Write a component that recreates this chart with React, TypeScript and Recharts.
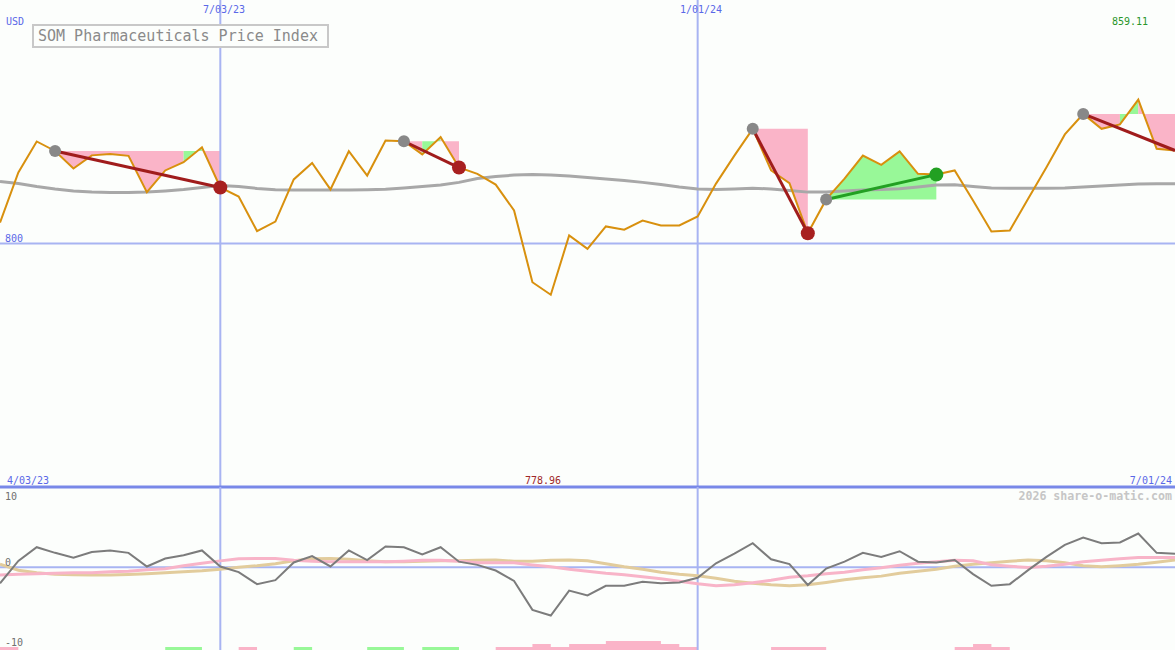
import React from "react";
import {
  ComposedChart,
  Line,
  Area,
  Scatter,
  XAxis,
  YAxis,
  ReferenceLine,
} from "recharts";

// weekly closes, 4/10/23 .. 7/01/24
const price = [
  808.6, 829.2, 841.9, 838.0, 830.8, 836.2, 836.8, 836.0, 821.1, 830.0,
  833.4, 839.5, 823.0, 819.3, 805.1, 809.0, 826.3, 833.1, 822.2, 837.9,
  827.9, 842.3, 842.0, 836.6, 843.7, 831.2, 828.6, 824.2, 813.6, 784.1,
  778.96, 803.3, 797.8, 807.0, 805.7, 809.4, 807.4, 807.4, 811.1, 824.6,
  836.1, 847.1, 830.0, 824.8, 804.2, 818.1, 826.6, 836.1, 832.3, 837.8,
  828.6, 828.3, 830.0, 817.7, 804.9, 805.3, 818.4, 831.3, 844.8, 853.2,
  847.1, 848.9, 859.11, 838.9, 838.2,
];

const movingAvg = [
  825.5, 824.6, 823.4, 822.4, 821.6, 821.1, 820.9, 820.9, 821.1, 821.6,
  822.2, 823.0, 823.8, 823.4, 822.6, 822.1, 822.0, 822.0, 822.0, 822.0,
  822.1, 822.3, 822.8, 823.4, 824.0, 825.1, 826.7, 827.5, 828.1, 828.3,
  828.1, 827.7, 827.1, 826.5, 825.9, 825.1, 824.2, 823.2, 822.4, 822.2,
  822.4, 822.7, 822.4, 821.8, 821.1, 821.1, 821.6, 822.0, 822.2, 822.5,
  823.2, 824.0, 824.1, 823.4, 822.8, 822.7, 822.7, 822.7, 822.8, 823.2,
  823.6, 824.0, 824.4, 824.5, 824.5,
];

const oscillator = [
  -2.0, 0.8, 2.5, 1.8, 1.2, 1.9, 2.1, 1.8, 0.1, 1.1,
  1.5, 2.1, 0.1, -0.6, -2.1, -1.6, 0.6, 1.4, 0.1, 2.1,
  0.9, 2.6, 2.5, 1.6, 2.5, 0.7, 0.3, -0.4, -1.7, -5.3,
  -6.0, -2.9, -3.5, -2.3, -2.3, -1.8, -2.0, -1.9, -1.3, 0.5,
  1.7, 3.0, 1.0, 0.4, -2.2, -0.15, 0.7, 1.8, 1.3, 2.0,
  0.7, 0.6, 0.9, -0.85, -2.3, -2.1, -0.35, 1.3, 2.8, 3.7,
  3.0, 3.1, 4.2, 1.8, 1.7,
];

const fastSignal = [
  -0.97, -0.87, -0.8, -0.75, -0.68, -0.68, -0.56, -0.5, -0.3, -0.19,
  0.19, 0.5, 0.8, 1.06, 1.1, 1.1, 0.87, 0.75, 0.68, 0.68,
  0.68, 0.68, 0.75, 0.87, 0.87, 0.75, 0.56, 0.56, 0.56, 0.3,
  0.06, -0.25, -0.5, -0.75, -0.93, -1.18, -1.43, -1.74, -2.05, -2.3,
  -2.18, -1.93, -1.62, -1.25, -1.06, -0.81, -0.62, -0.31, -0.06, 0.25,
  0.5, 0.68, 0.87, 0.81, 0.31, 0.12, -0.02, 0.12, 0.37, 0.68,
  0.87, 1.06, 1.22, 1.22, 1.22,
];

const slowSignal = [
  0.4, -0.37, -0.68, -0.87, -0.93, -0.97, -0.97, -0.91, -0.81, -0.68,
  -0.56, -0.44, -0.25, 0, 0.19, 0.44, 0.81, 1.06, 1.1, 1.0,
  0.81, 0.68, 0.68, 0.75, 0.81, 0.81, 0.87, 0.9, 0.75, 0.75,
  0.87, 0.9, 0.81, 0.44, 0.06, -0.25, -0.62, -0.87, -1.06, -1.37,
  -1.74, -1.99, -2.18, -2.3, -2.18, -1.89, -1.56, -1.31, -1.1, -0.75,
  -0.5, -0.25, 0.12, 0.37, 0.56, 0.75, 0.9, 0.81, 0.56, 0.19,
  0.06, 0.19, 0.37, 0.62, 0.9,
];

const downBars = [
  1, 0, 0, 0, 0, 0, 0, 0, 0, 0,
  0, 0, 0, 1, 0, 0, 0, 0, 0, 0,
  0, 0, 0, 0, 0, 0, 0, 1, 1, 2,
  1, 2, 2, 3, 3, 3, 2, 1, 0, 0,
  0, 0, 1, 1, 1, 0, 0, 0, 0, 0,
  0, 0, 1, 2, 1, 0, 0, 0, 0, 0,
  0, 0, 0, 0, 0,
];

const upBars = [
  0, 0, 0, 0, 0, 0, 0, 0, 0, 1,
  1, 0, 0, 0, 0, 0, 1, 0, 0, 0,
  1, 1, 0, 1, 1, 0, 0, 0, 0, 0,
  0, 0, 0, 0, 0, 0, 0, 0, 0, 0,
  0, 0, 0, 0, 0, 0, 0, 0, 0, 0,
  0, 0, 0, 0, 0, 0, 0, 0, 0, 0,
  0, 0, 0, 0, 0,
];

// entry / exit week numbers
const trades = [
  { entry: 4, exit: 13, open: false },
  { entry: 23, exit: 26, open: false },
  { entry: 42, exit: 45, open: false },
  { entry: 46, exit: 52, open: false },
  { entry: 60, exit: 65, open: true },
];

const W = 1175;
const PINK = "#fab4c8";
const GREEN = "#98f898";
const GRID = "#a8b4f2";
const BLUE_TEXT = "#5a68e8";
const BG = "#fcfefc";

const at = (arr: number[], wk: number) => arr[wk - 1];

// split every trade into runs of weeks shaded the same colour
type Run = { key: string; color: string; from: number; to: number; level: number };
const runs: Run[] = [];
trades.forEach((t) => {
  const level = at(price, t.entry);
  let start = t.entry;
  let color = "";
  for (let k = t.entry; k < t.exit; k++) {
    const c = at(price, k + 1) >= level ? GREEN : PINK;
    if (color && c !== color) {
      runs.push({ key: `r${runs.length}`, color, from: start, to: k, level });
      start = k;
    }
    color = c;
  }
  runs.push({ key: `r${runs.length}`, color, from: start, to: t.exit, level });
});

const mainData = price.map((p, i) => {
  const wk = i + 1;
  const row: Record<string, any> = { x: wk, price: p, ma: movingAvg[i] };
  runs.forEach((r) => {
    if (wk >= r.from && wk <= r.to) row[r.key] = [r.level, p];
  });
  trades.forEach((t, j) => {
    if (wk === t.entry || wk === t.exit) row[`s${j}`] = p;
  });
  return row;
});

const entryDots = trades.map((t) => ({ x: t.entry, y: at(price, t.entry) }));
const lossDots = trades
  .filter((t) => !t.open && at(price, t.exit) < at(price, t.entry))
  .map((t) => ({ x: t.exit, y: at(price, t.exit) }));
const gainDots = trades
  .filter((t) => !t.open && at(price, t.exit) >= at(price, t.entry))
  .map((t) => ({ x: t.exit, y: at(price, t.exit) }));

const oscData = oscillator.map((v, i) => ({
  x: i + 1,
  osc: v,
  fast: fastSignal[i],
  slow: slowSignal[i],
  down: downBars[i],
  up: upBars[i],
}));

const dot = (r: number, fill: string) => (p: any) =>
  <circle cx={p.cx} cy={p.cy} r={r} fill={fill} />;

const mono = "'DejaVu Sans Mono', monospace";

export default function App() {
  return (
    <div style={{ position: "relative", width: W, height: 650, background: BG, overflow: "hidden" }}>
      <style>{"body{margin:0}"}</style>
      <div style={{ position: "absolute", left: 0, top: 0 }}>
        <ComposedChart
          width={W}
          height={490}
          data={mainData}
          margin={{ top: 0, right: 0, bottom: 3, left: 0 }}
        >
          <XAxis dataKey="x" type="number" domain={[1, 65]} hide />
          <YAxis type="number" domain={[700, 900]} hide />
          <ReferenceLine y={800} stroke={GRID} strokeWidth={2} />
          <ReferenceLine x={13} stroke={GRID} strokeWidth={2} />
          <ReferenceLine x={39} stroke={GRID} strokeWidth={2} />
          <ReferenceLine y={700} stroke="#7888e8" strokeWidth={3} />
          {runs.map((r) => (
            <Area
              key={r.key}
              dataKey={r.key}
              type="linear"
              stroke="none"
              fill={r.color}
              fillOpacity={1}
              isAnimationActive={false}
              activeDot={false}
            />
          ))}
          <Line dataKey="ma" stroke="#a8a8a8" strokeWidth={3} dot={false} activeDot={false} isAnimationActive={false} />
          <Line dataKey="price" stroke="#d8900e" strokeWidth={2} dot={false} activeDot={false} isAnimationActive={false} />
          {trades.map((t, j) => (
            <Line
              key={`s${j}`}
              dataKey={`s${j}`}
              connectNulls
              stroke={at(price, t.exit) < at(price, t.entry) ? "#a01c1c" : "#22a022"}
              strokeWidth={3}
              dot={false}
              activeDot={false}
              isAnimationActive={false}
            />
          ))}
          <Scatter data={entryDots} dataKey="y" shape={dot(6, "#888888")} isAnimationActive={false} />
          <Scatter data={lossDots} dataKey="y" shape={dot(7, "#a82020")} isAnimationActive={false} />
          <Scatter data={gainDots} dataKey="y" shape={dot(7, "#22a022")} isAnimationActive={false} />
        </ComposedChart>
      </div>
      <div style={{ position: "absolute", left: 0, top: 487 }}>
        <ComposedChart
          width={W}
          height={163}
          data={oscData}
          margin={{ top: 0, right: 0, bottom: 0, left: 0 }}
        >
          <XAxis dataKey="x" type="number" domain={[1, 65]} hide />
          <YAxis yAxisId="osc" type="number" domain={[-10.3, 10]} hide />
          <YAxis yAxisId="bar" type="number" domain={[0, 54.33]} hide />
          <ReferenceLine yAxisId="osc" x={13} stroke={GRID} strokeWidth={2} />
          <ReferenceLine yAxisId="osc" x={39} stroke={GRID} strokeWidth={2} />
          <ReferenceLine yAxisId="osc" y={0} stroke={GRID} strokeWidth={2} />
          <Area yAxisId="bar" dataKey="down" type="stepAfter" stroke="none" fill={PINK} fillOpacity={1} isAnimationActive={false} activeDot={false} />
          <Area yAxisId="bar" dataKey="up" type="stepAfter" stroke="none" fill={GREEN} fillOpacity={1} isAnimationActive={false} activeDot={false} />
          <Line yAxisId="osc" dataKey="slow" stroke="#e2cc9c" strokeWidth={3} dot={false} activeDot={false} isAnimationActive={false} />
          <Line yAxisId="osc" dataKey="fast" stroke="#f8b4c8" strokeWidth={3} dot={false} activeDot={false} isAnimationActive={false} />
          <Line yAxisId="osc" dataKey="osc" stroke="#7c7c7c" strokeWidth={2} dot={false} activeDot={false} isAnimationActive={false} />
        </ComposedChart>
      </div>
      <svg
        width={W}
        height={650}
        style={{ position: "absolute", left: 0, top: 0, pointerEvents: "none" }}
        fontFamily={mono}
        fontSize={10}
      >
        <text x={6} y={25} fill={BLUE_TEXT}>USD</text>
        <text x={224} y={13} fill={BLUE_TEXT} textAnchor="middle">7/03/23</text>
        <text x={701} y={13} fill={BLUE_TEXT} textAnchor="middle">1/01/24</text>
        <text x={1112} y={25} fill="#2a962a">859.11</text>
        <text x={5} y={242} fill={BLUE_TEXT}>800</text>
        <text x={7} y={484} fill={BLUE_TEXT}>4/03/23</text>
        <text x={543} y={484} fill="#a02828" textAnchor="middle">778.96</text>
        <text x={1172} y={484} fill={BLUE_TEXT} textAnchor="end">7/01/24</text>
        <text x={5} y={500} fill="#707070">10</text>
        <text x={5} y={566} fill="#707070">0</text>
        <text x={5} y={646} fill="#707070">-10</text>
        <text x={1172} y={500} fill="#c6c6c6" textAnchor="end" fontSize={11.6} fontWeight="bold">
          2026 share-o-matic.com
        </text>
        <rect x={33} y={25} width={295} height={22} fill={BG} stroke="#c8c8c8" strokeWidth={2} />
        <text x={38} y={41} fill="#8a8a8a" fontSize={15}>SOM Pharmaceuticals Price Index</text>
      </svg>
    </div>
  );
}
